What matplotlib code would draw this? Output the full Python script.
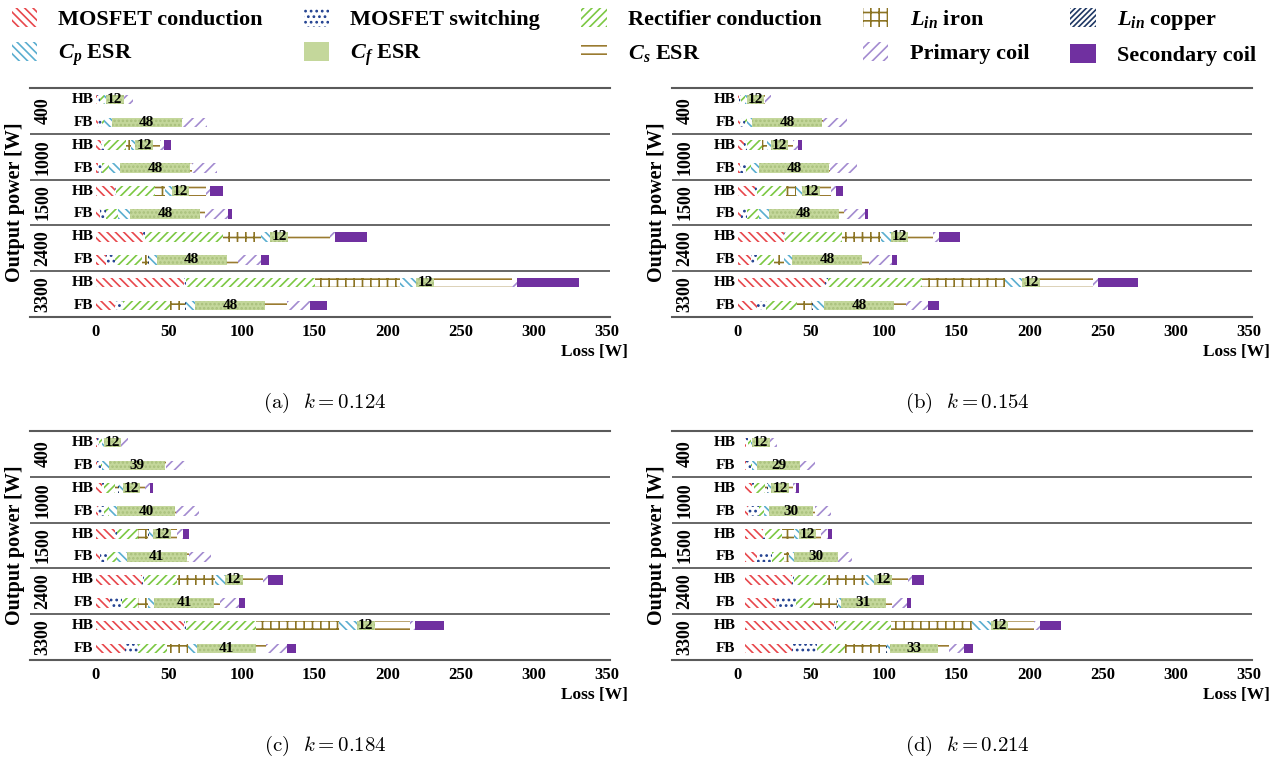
import numpy as np
import matplotlib.pyplot as plt
from matplotlib.patches import Patch

plt.rcParams['font.family'] = 'Liberation Serif'
plt.rcParams['font.weight'] = 'bold'
plt.rcParams['mathtext.fontset'] = 'custom'
plt.rcParams['mathtext.bf'] = 'Liberation Serif:italic:bold'
plt.rcParams['mathtext.it'] = 'Liberation Serif:italic:bold'
plt.rcParams['mathtext.rm'] = 'Liberation Serif:bold'
plt.rcParams['hatch.linewidth'] = 1.2

powers = ['400', '1000', '1500', '2400', '3300']
topologies = ['HB', 'FB']

components = ['MOSFET conduction', 'MOSFET switching', 'Rectifier conduction',
              r'$\mathbf{L_{in}}$ iron', r'$\mathbf{L_{in}}$ copper',
              r'$\mathbf{C_p}$ ESR', r'$\mathbf{C_f}$ ESR', r'$\mathbf{C_s}$ ESR',
              'Primary coil', 'Secondary coil']
colors = ['#e8474c', '#1f3f8f', '#7cc843', '#8c7424', '#1f3864',
          '#5aaed0', '#c4d79b', '#9a7b30', '#a38bd0', '#7030a0']
hatches = ['\\\\\\\\', '...', '////', '++', '//////',
           '\\\\\\\\', '....', '--', '///', None]

# rows: 400 HB, 400 FB, 1000 HB, 1000 FB, ... 3300 FB
# cols: MOSFET cond, MOSFET sw, rectifier, Lin iron, Lin copper, Cp, Cf, Cs, primary, secondary
loss_a = [
    [1.2, 1.5, 3.0, 0.0, 0.0, 1.5, 12, 0.2, 6.0, 0.0],
    [1.5, 3.0, 1.5, 0.0, 0.0, 5.0, 48, 0.3, 16.8, 0.0],
    [4.0, 1.5, 15.5, 3.0, 0.3, 3.0, 12, 4.5, 3.0, 4.5],
    [1.5, 3.0, 4.5, 0.3, 0.0, 7.5, 48, 1.0, 17.5, 0.0],
    [13.0, 1.0, 26.5, 7.0, 0.3, 4.5, 12, 11.0, 3.3, 8.5],
    [3.0, 4.0, 8.0, 0.5, 0.0, 8.0, 48, 3.5, 16.0, 2.3],
    [32.5, 1.2, 53.8, 25.8, 0.3, 6.0, 12, 29.1, 3.4, 22.0],
    [7.2, 6.0, 18.3, 4.6, 0.3, 5.4, 48, 7.9, 15.5, 5.7],
    [60.8, 1.0, 88.5, 58.3, 0.3, 10.8, 12, 53.6, 3.5, 42.5],
    [13.3, 5.7, 32.0, 10.3, 0.3, 6.6, 48, 14.8, 16.0, 11.4],
]
loss_b = [
    [1.0, 1.0, 3.2, 0.0, 0.0, 1.0, 12, 0.2, 4.3, 0.0],
    [1.5, 3.5, 1.2, 0.0, 0.0, 3.8, 48, 0.2, 16.8, 0.0],
    [4.3, 1.9, 10.7, 3.0, 0.2, 2.5, 12, 3.5, 3.2, 3.0],
    [1.5, 4.0, 3.4, 0.2, 0.0, 5.5, 48, 1.0, 17.9, 0.0],
    [12.0, 1.2, 20.1, 6.4, 0.2, 4.4, 12, 7.4, 3.4, 5.3],
    [2.0, 4.2, 8.2, 0.3, 0.0, 6.6, 48, 3.3, 14.9, 1.6],
    [31.5, 1.2, 39.0, 26.3, 0.2, 6.6, 12, 17.2, 3.9, 14.8],
    [8.9, 4.6, 11.4, 6.8, 0.2, 5.6, 48, 4.4, 16.0, 3.5],
    [60.0, 2.0, 64.0, 57.0, 0.2, 11.8, 12, 36.5, 3.5, 27.5],
    [13.5, 5.7, 21.7, 10.2, 0.3, 7.7, 48, 8.1, 15.5, 7.3],
]
loss_c = [
    [1.0, 1.2, 2.2, 0.0, 0.0, 1.0, 12, 0.2, 4.9, 0.0],
    [1.2, 2.5, 0.8, 0.0, 0.0, 4.3, 39, 0.2, 13.3, 0.0],
    [4.2, 1.5, 7.7, 2.2, 0.2, 2.8, 12, 3.3, 3.4, 2.3],
    [1.3, 4.1, 3.4, 0.2, 0.0, 5.5, 40, 0.8, 15.6, 0.0],
    [13.0, 1.5, 14.8, 6.9, 0.2, 3.2, 12, 4.0, 4.5, 4.1],
    [3.0, 4.6, 6.9, 0.4, 0.0, 6.5, 41, 1.5, 15.0, 0.0],
    [32.0, 1.2, 22.4, 26.2, 0.2, 6.7, 12, 14.2, 3.5, 9.8],
    [9.9, 8.0, 11.4, 6.7, 0.2, 3.9, 41, 4.2, 13.2, 3.9],
    [60.5, 1.2, 48.2, 56.9, 0.2, 12.2, 12, 24.4, 3.4, 19.9],
    [20.2, 9.1, 19.5, 14.6, 0.2, 5.6, 41, 6.8, 13.8, 6.3],
]
loss_d = [
    [1.0, 1.5, 1.6, 0.0, 0.0, 1.0, 12, 0.2, 5.2, 0.0],
    [1.2, 3.0, 1.0, 0.0, 0.0, 3.5, 29, 0.2, 10.0, 0.0],
    [5.2, 1.5, 7.0, 1.8, 0.2, 2.6, 12, 2.5, 2.2, 2.2],
    [2.3, 7.5, 3.4, 0.2, 0.0, 3.3, 30, 1.2, 11.5, 0.0],
    [12.8, 1.0, 12.0, 8.0, 0.2, 3.2, 12, 3.0, 4.6, 2.8],
    [8.7, 10.2, 8.0, 3.5, 0.2, 3.2, 30, 0.4, 9.5, 0.0],
    [32.7, 1.2, 22.7, 25.6, 0.2, 6.4, 12, 10.8, 3.4, 7.6],
    [21.2, 13.7, 12.6, 16.0, 0.2, 2.0, 31, 4.2, 10.3, 2.8],
    [61.2, 1.5, 37.3, 55.9, 0.2, 12.4, 12, 17.9, 4.0, 14.2],
    [32.7, 16.6, 19.2, 28.7, 0.2, 2.3, 33, 7.5, 10.2, 6.4],
]
# bars in (d) start a little right of zero
start = {'a': 0.0, 'b': 0.0, 'c': 0.0, 'd': 4.8}
captions = {'a': '0.124', 'b': '0.154', 'c': '0.184', 'd': '0.214'}
cf_col = 6

gray = '#5a5a5a'


def draw_panel(ax, loss, x0):
    vals = np.array(loss, dtype=float)
    lefts = x0 + np.hstack([np.zeros((len(vals), 1)), np.cumsum(vals, axis=1)[:, :-1]])
    ypos = np.arange(len(vals)) + 0.5
    for j in range(vals.shape[1]):
        solid = hatches[j] is None
        ax.barh(ypos, vals[:, j], left=lefts[:, j], height=0.42,
                color=colors[j] if solid else ('#c4d79b' if j == cf_col else 'white'),
                edgecolor=('#a9c07c' if j == cf_col else colors[j]),
                hatch=hatches[j], linewidth=0)
    for i, y in enumerate(ypos):
        ax.text(-1.5, y, topologies[i % 2], ha='right', va='center', fontsize=11)
        cf = vals[i, cf_col]
        ax.text(lefts[i, cf_col] + cf / 2, y, f'{cf:.0f}', ha='center', va='center',
                fontsize=11)
    for g, p in enumerate(powers):
        ax.text(-36, 2 * g + 1, p, rotation=90, ha='center', va='center', fontsize=13)
        if g > 0:
            ax.axhline(2 * g, color=gray, lw=1.3)
    ax.set_xlim(-45, 352.5)
    ax.set_ylim(10, 0)
    ax.set_xticks(range(0, 351, 50))
    ax.set_yticks([])
    ax.tick_params(axis='x', length=0, labelsize=12, pad=5)
    for s in ['left', 'right']:
        ax.spines[s].set_visible(False)
    for s in ['top', 'bottom']:
        ax.spines[s].set_color(gray)
        ax.spines[s].set_linewidth(1.5)
    ax.text(1.031, -0.155, 'Loss [W]', transform=ax.transAxes, ha='right', va='center',
            fontsize=12.5)
    ax.text(-0.026, 0.5, 'Output power [W]', transform=ax.transAxes, rotation=90,
            ha='center', va='center', fontsize=14.5)


fig = plt.figure(figsize=(12.82, 7.62), dpi=100)
W, H = 1282, 762
panels = [('a', loss_a, 30, 88), ('b', loss_b, 672, 88),
          ('c', loss_c, 30, 431), ('d', loss_d, 672, 431)]
for key, loss, px, py in panels:
    ax = fig.add_axes([px / W, 1 - (py + 229) / H, 580 / W, 229 / H])
    draw_panel(ax, loss, start[key])
    fig.text((px + 295) / W, 1 - (py + 315) / H,
             '(' + key + r')  $k = ' + captions[key] + '$',
             ha='center', va='center', fontsize=15, fontweight='normal',
             family='cmr10', math_fontfamily='cm')

order = [0, 5, 1, 6, 2, 7, 3, 8, 4, 9]
handles = []
labels = []
for j in order:
    solid = hatches[j] is None
    if j == cf_col:
        handles.append(Patch(facecolor=colors[j], edgecolor=colors[j], linewidth=0))
    else:
        handles.append(Patch(facecolor=colors[j] if solid else 'white',
                             edgecolor=colors[j], hatch=hatches[j], linewidth=0))
    labels.append(components[j])
fig.legend(handles, labels, ncol=5, loc='upper left', bbox_to_anchor=(-0.0066, 1.016),
           frameon=False, prop={'family': 'Liberation Serif', 'weight': 'bold', 'size': 16},
           handlelength=1.15, handleheight=0.95, handletextpad=0.95,
           columnspacing=1.85, labelspacing=0.55)

fig.savefig('out.png', dpi=100)
